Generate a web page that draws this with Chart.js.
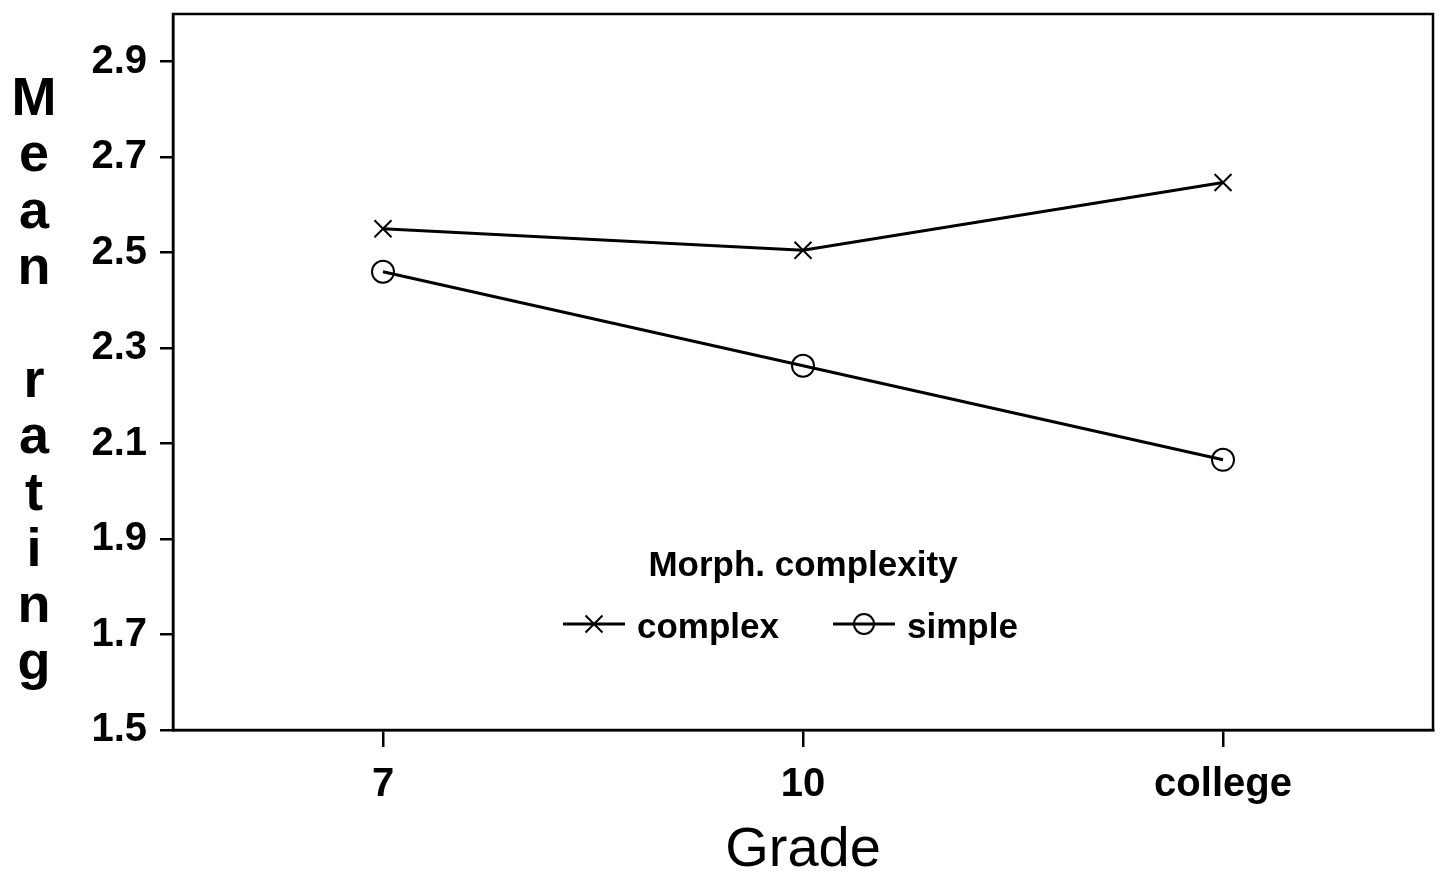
<!DOCTYPE html>
<html>
<head>
<meta charset="utf-8">
<title>Mean rating by grade</title>
<script src="https://cdn.jsdelivr.net/npm/chart.js@4.4.1/dist/chart.umd.min.js"></script>
<style>
  html, body { margin: 0; padding: 0; background: #ffffff; overflow: hidden; }
  /* a bit wider than the window: the x axis keeps 14px free on its right */
  #wrap { position: relative; width: 1447px; height: 876px; }
  #chart { display: block; }
</style>
</head>
<body>
<div id="wrap"><canvas id="chart"></canvas></div>
<script>
// data
const grades = ['7', '10', 'college'];
const complexValues = [2.55, 2.505, 2.647];
const simpleValues = [2.46, 2.263, 2.066];
const yTicks = [1.5, 1.7, 1.9, 2.1, 2.3, 2.5, 2.7, 2.9];
const legendTitle = 'Morph. complexity';
const yTitleLetters = ['M', 'e', 'a', 'n', '', 'r', 'a', 't', 'i', 'n', 'g'];

const FONT = "'Liberation Sans', Arial, Helvetica, sans-serif";

// box around the plot area
const frameBox = {
    id: 'frameBox',
    afterDatasetsDraw(chart) {
        const { ctx, chartArea: a } = chart;
        ctx.save();
        ctx.strokeStyle = '#000';
        ctx.lineWidth = 2.5;
        ctx.strokeRect(a.left, a.top, a.right - a.left, a.bottom - a.top);
        ctx.restore();
    }
};

// stacked letters of the y title
const stackedTitle = {
    id: 'stackedTitle',
    afterDraw(chart) {
        const ctx = chart.ctx;
        ctx.save();
        ctx.fillStyle = '#000';
        ctx.font = 'bold 54px ' + FONT;
        ctx.textAlign = 'center';
        ctx.textBaseline = 'middle';
        yTitleLetters.forEach(function (ch, i) {
            if (ch) ctx.fillText(ch, 34, 100 + i * 56.4);
        });
        ctx.restore();
    }
};

// legend drawn inside the plot, under the lines
const innerLegend = {
    id: 'innerLegend',
    afterDraw(chart) {
        const ctx = chart.ctx;
        ctx.save();
        ctx.fillStyle = '#000';
        ctx.strokeStyle = '#000';
        ctx.font = 'bold 35px ' + FONT;
        ctx.textAlign = 'center';
        ctx.textBaseline = 'middle';
        ctx.fillText(legendTitle, 803, 566);

        const items = [
            { ds: chart.data.datasets[0], x: 563 },
            { ds: chart.data.datasets[1], x: 833 }
        ];
        const y = 624;
        items.forEach(function (it) {
            ctx.lineWidth = 3;
            ctx.beginPath();
            ctx.moveTo(it.x, y);
            ctx.lineTo(it.x + 62, y);
            ctx.stroke();
            const px = it.x + 31, r = 10;
            ctx.lineWidth = 2;
            ctx.beginPath();
            if (it.ds.pointStyle === 'circle') {
                ctx.arc(px, y, r, 0, Math.PI * 2);
            } else {
                const d = r * 0.85;
                ctx.moveTo(px - d, y - d); ctx.lineTo(px + d, y + d);
                ctx.moveTo(px + d, y - d); ctx.lineTo(px - d, y + d);
            }
            ctx.stroke();
            ctx.textAlign = 'left';
            ctx.fillText(it.ds.label, it.x + 74, y + 4);
        });
        ctx.restore();
    }
};

const ctx = document.getElementById('chart');

new Chart(ctx, {
    type: 'line',
    data: {
        labels: grades,
        datasets: [{
            label: 'complex',
            data: complexValues,
            borderColor: '#000',
            borderWidth: 3,
            pointStyle: 'crossRot',
            pointRadius: 12,
            pointBorderWidth: 2,
            pointBorderColor: '#000',
            tension: 0
        }, {
            label: 'simple',
            data: simpleValues,
            borderColor: '#000',
            borderWidth: 3,
            pointStyle: 'circle',
            pointRadius: 11,
            pointBorderWidth: 2,
            pointBorderColor: '#000',
            pointBackgroundColor: 'rgba(0,0,0,0)',
            tension: 0
        }]
    },
    options: {
        responsive: true,
        maintainAspectRatio: false,
        animation: false,
        layout: { padding: { top: 11, right: 0, left: 0, bottom: 0 } },
        plugins: {
            legend: { display: false },
            tooltip: { enabled: false }
        },
        scales: {
            x: {
                offset: true,
                grid: {
                    offset: false,
                    drawOnChartArea: false,
                    drawTicks: true,
                    tickLength: 17,
                    color: '#000',
                    lineWidth: 2.5
                },
                border: { display: true, color: '#000', width: 2.5 },
                ticks: {
                    color: '#000',
                    padding: 14,
                    font: { family: FONT, size: 40, weight: 'bold' }
                },
                title: {
                    display: true,
                    text: 'Grade',
                    color: '#000',
                    padding: { top: 0, bottom: -8 },
                    font: { family: FONT, size: 56 }
                },
                afterFit(scale) {
                    scale.height = 146;
                }
            },
            y: {
                min: 1.5,
                max: 3.0,
                afterBuildTicks(scale) {
                    scale.ticks = yTicks.map(function (v) { return { value: v }; });
                },
                grid: {
                    drawOnChartArea: false,
                    drawTicks: true,
                    tickLength: 13,
                    color: '#000',
                    lineWidth: 2.5
                },
                border: { display: true, color: '#000', width: 2.5 },
                ticks: {
                    color: '#000',
                    padding: 13,
                    font: { family: FONT, size: 40, weight: 'bold' },
                    callback: function (v) { return v.toFixed(1); }
                },
                afterFit(scale) {
                    scale.width = 173;
                    scale.paddingTop = 0;
                    scale.paddingBottom = 0;
                }
            }
        }
    },
    plugins: [frameBox, stackedTitle, innerLegend]
});
</script>
</body>
</html>
